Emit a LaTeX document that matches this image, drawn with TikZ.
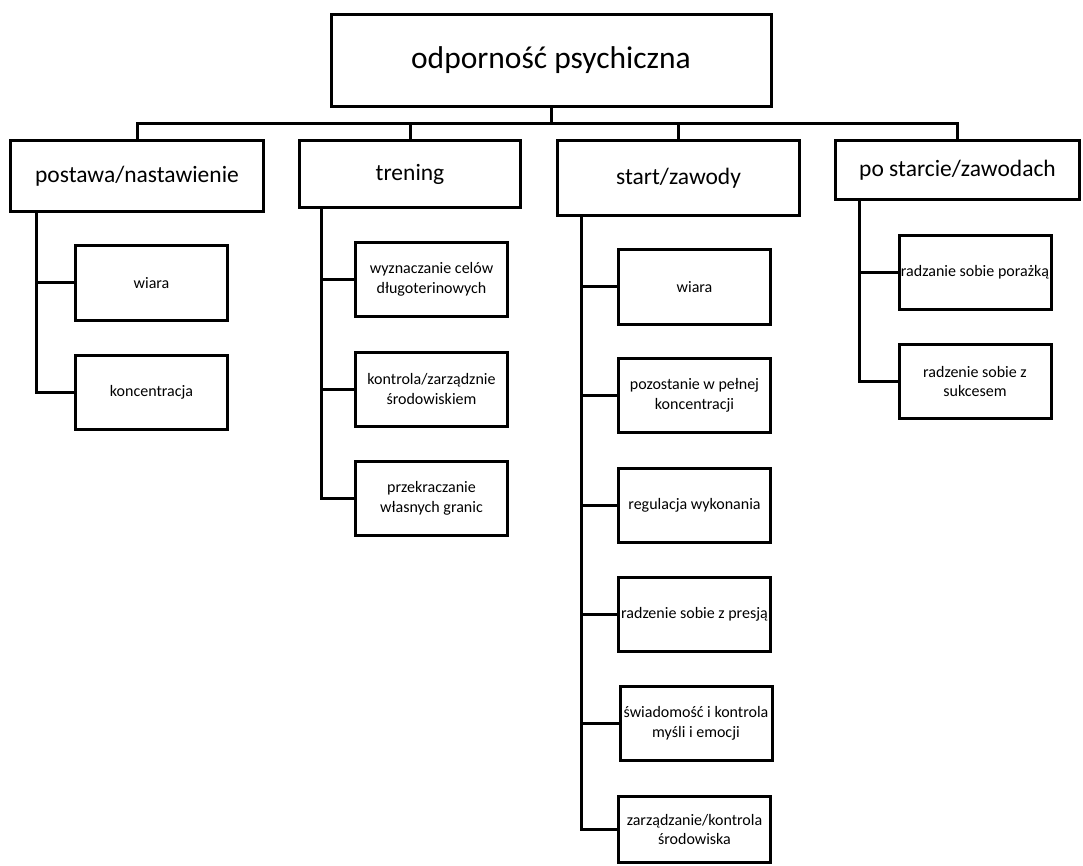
\documentclass[tikz,border=0pt]{standalone}
\usepackage{fontspec}
\setmainfont{Carlito}
\usetikzlibrary{positioning,calc}
\begin{document}
\begin{tikzpicture}[x=1pt, y=-1pt,
  box/.style={draw, line width=3pt, align=center, inner sep=1pt},
  topbox/.style={box, minimum width=440pt, minimum height=92pt, font=\fontsize{31.5}{38}\selectfont},
  catbox/.style={box, font=\fontsize{23.5}{28}\selectfont},
  itembox/.style={box, minimum width=152pt, minimum height=74pt, font=\fontsize{16}{19.5}\selectfont},
  link/.style={line width=3pt}]
\useasboundingbox (0,0) rectangle (1083,866);
% root
\node[topbox] (root) at (551,60.5) {odporność psychiczna};
% categories
\node[catbox, minimum width=253pt, minimum height=71pt] (post) at (137,176) {postawa/nastawienie};
\node[catbox, minimum width=221pt, minimum height=67pt] (tren) at (410,174) {trening};
\node[catbox, minimum width=242pt, minimum height=75pt] (start) at (678.5,178) {start/zawody};
\node[catbox, minimum width=244pt, minimum height=59pt] (po) at (957.5,170) {po starcie/zawodach};
\coordinate (bus) at (551,124);
\draw[link] (root) -- (bus);
\foreach \c in {post,tren,start,po}
  \draw[link] (bus) -| (\c.north);
% postawa/nastawienie
\node[itembox] (post1) at (151.5,283) {wiara};
\node[itembox] (post2) at (151.5,392.5) {koncentracja};
\coordinate (postspine) at ($(post.south west)+(27,0)$);
\foreach \i in {post1,post2}
  \draw[link] (postspine) |- (\i.west);
% trening
\node[itembox] (tren1) at (431.5,279.5) {wyznaczanie celów\\długoterinowych};
\node[itembox] (tren2) at (431.5,389) {kontrola/zarządznie\\środowiskiem};
\node[itembox] (tren3) at (431.5,498.5) {przekraczanie\\własnych granic};
\coordinate (trenspine) at ($(tren.south west)+(23.5,0)$);
\foreach \i in {tren1,tren2,tren3}
  \draw[link] (trenspine) |- (\i.west);
% start/zawody
\node[itembox] (start1) at (694.5,287) {wiara};
\node[itembox] (start2) at (694.5,395.5) {pozostanie w pełnej\\koncentracji};
\node[itembox] (start3) at (694.5,505) {regulacja wykonania};
\node[itembox] (start4) at (694.5,614.5) {radzenie sobie z presją};
\node[itembox] (start5) at (696,723.5) {świadomość i kontrola\\myśli i emocji};
\node[itembox, minimum height=66pt] (start6) at (694.5,829.5) {zarządzanie/kontrola\\środowiska};
\coordinate (startspine) at ($(start.south west)+(25,0)$);
\foreach \i in {start1,start2,start3,start4,start5,start6}
  \draw[link] (startspine) |- (\i.west);
% po starcie/zawodach
\node[itembox] (po1) at (975,272.5) {radzanie sobie porażką};
\node[itembox] (po2) at (975,381.5) {radzenie sobie z\\sukcesem};
\coordinate (pospine) at ($(po.south west)+(25,0)$);
\foreach \i in {po1,po2}
  \draw[link] (pospine) |- (\i.west);
\end{tikzpicture}
\end{document}
